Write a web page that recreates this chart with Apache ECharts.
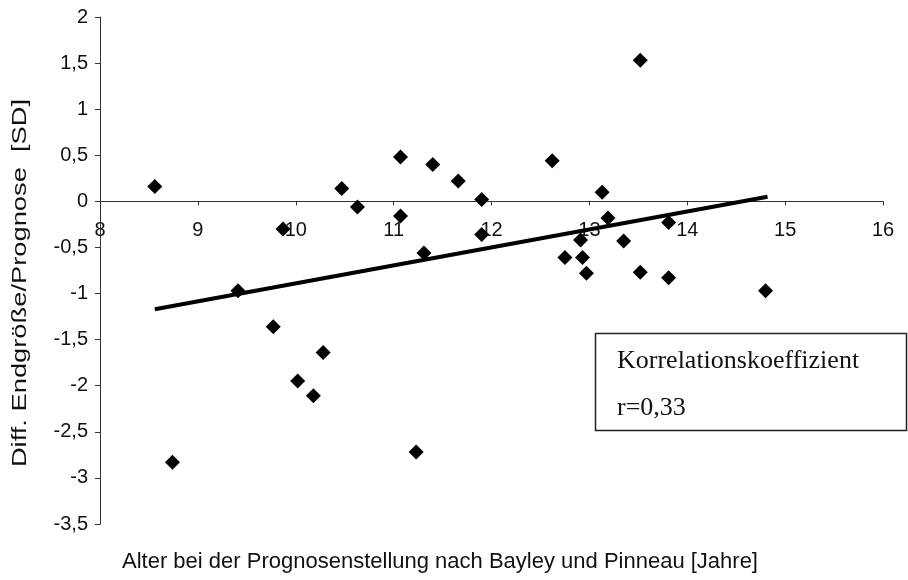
<!DOCTYPE html>
<html>
<head>
<meta charset="utf-8">
<script src="https://cdn.jsdelivr.net/npm/echarts@6/dist/echarts.min.js"></script>
<style>html,body{margin:0;padding:0;background:#fff}#c{width:908px;height:580px}</style>
</head>
<body>
<div id="c"></div>
<script>
// Data
const ageX = [8.56, 8.74, 9.41, 9.77, 9.87, 10.02, 10.18, 10.28, 10.47, 10.63, 11.07, 11.07, 11.23, 11.31, 11.40, 11.66, 11.90, 11.90, 12.62, 12.75, 12.91, 12.93, 12.97, 13.13, 13.19, 13.35, 13.52, 13.52, 13.81, 13.81, 14.80];
const diffY = [0.16, -2.83, -0.97, -1.36, -0.30, -1.95, -2.11, -1.64, 0.14, -0.06, 0.48, -0.16, -2.72, -0.56, 0.40, 0.22, 0.02, -0.36, 0.44, -0.61, -0.42, -0.61, -0.78, 0.10, -0.18, -0.43, 1.53, -0.77, -0.23, -0.83, -0.97];
const trendX = [8.56, 14.82];
const trendY = [-1.17, 0.05];
const xTicks = ['8', '9', '10', '11', '12', '13', '14', '15', '16'];
const yTicks = ['-3,5', '-3', '-2,5', '-2', '-1,5', '-1', '-0,5', '0', '0,5', '1', '1,5', '2'];
const xTitle = 'Alter bei der Prognosenstellung nach Bayley und Pinneau [Jahre]';
const yTitle = 'Diff. Endgröße/Prognose  [SD]';
const boxLines = ['Korrelationskoeffizient', 'r=0,33'];

const Y_MIN = -3.5, Y_MAX = 2;
const GRID = {left: 100, right: 25, top: 17, bottom: 56};
const plotH = 580 - GRID.top - GRID.bottom;
// place the x axis on y = 0 (labels follow it)
const xAxisOffset = -((0 - Y_MIN) / (Y_MAX - Y_MIN)) * plotH;

const chart = echarts.init(document.getElementById('c'), null, {renderer: 'canvas'});
chart.setOption({
  animation: false,
  backgroundColor: '#fff',
  grid: Object.assign({containLabel: false}, GRID),
  xAxis: {
    type: 'value', min: 8, max: 16, interval: 1,
    position: 'bottom', offset: xAxisOffset,
    axisLine: {onZero: false, lineStyle: {color: '#333', width: 1}},
    axisTick: {show: true, length: 4, lineStyle: {color: '#333'}},
    axisLabel: {margin: 19, color: '#111', fontFamily: 'Liberation Sans', fontSize: 20,
      formatter: v => { const i = Math.round(v - 8); return xTicks[i] ?? ''; }},
    splitLine: {show: false}
  },
  yAxis: {
    type: 'value', min: Y_MIN, max: Y_MAX, interval: 0.5,
    axisLine: {show: true, onZero: false, lineStyle: {color: '#333', width: 1}},
    axisTick: {show: true, length: 5, lineStyle: {color: '#333'}},
    axisLabel: {margin: 12, color: '#111', fontFamily: 'Liberation Sans', fontSize: 20,
      formatter: v => { const i = Math.round((v - Y_MIN) / 0.5); return yTicks[i] ?? String(v); }},
    splitLine: {show: false}
  },
  series: [
    {
      type: 'line',
      data: trendX.map((x, i) => [x, trendY[i]]),
      symbol: 'none',
      lineStyle: {color: '#000', width: 4},
      z: 2
    },
    {
      type: 'scatter',
      data: ageX.map((x, i) => [x, diffY[i]]),
      symbol: 'diamond',
      symbolSize: 15,
      itemStyle: {color: '#000', opacity: 1},
      z: 3
    }
  ],
  graphic: [
    {type: 'text', x: 440, y: 562,
      style: {text: xTitle, font: '22px "Liberation Sans"', fill: '#111', align: 'center', verticalAlign: 'middle'}},
    {type: 'text', x: 20, y: 283, rotation: Math.PI / 2, scaleX: 1.3,
      style: {text: yTitle, font: '21px "Liberation Sans"', fill: '#111', align: 'center', verticalAlign: 'middle'}},
    {type: 'rect', shape: {x: 595.5, y: 333.5, width: 311, height: 97},
      style: {fill: '#fff', stroke: '#222', lineWidth: 1.5}, z: 10},
    {type: 'text', x: 617, y: 361, z: 11,
      style: {text: boxLines[0], font: '26px "Liberation Serif"', fill: '#111', verticalAlign: 'middle'}},
    {type: 'text', x: 617, y: 408, z: 11,
      style: {text: boxLines[1], font: '26px "Liberation Serif"', fill: '#111', verticalAlign: 'middle'}}
  ]
});
</script>
</body>
</html>
